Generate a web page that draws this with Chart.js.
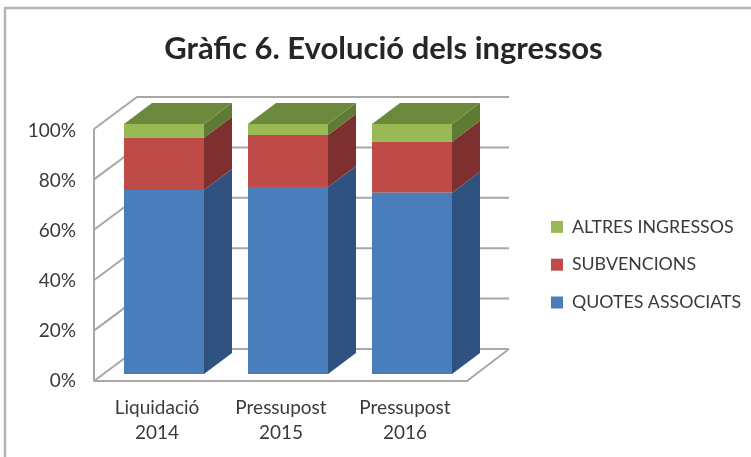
<!DOCTYPE html>
<html><head><meta charset="utf-8">
<style>html,body{margin:0;padding:0;background:#fff}canvas{display:block}</style>
<script src="https://cdn.jsdelivr.net/npm/chart.js@4/dist/chart.umd.js"></script>
</head><body><canvas id="c" width="751" height="457"></canvas>
<script>
const titleText = "Gràfic 6. Evolució dels ingressos";
const categories = [["Liquidació","2014"],["Pressupost","2015"],["Pressupost","2016"]];
const quotes = [73.6,74.8,72.5];
const subvencions = [20.9,20.8,20.4];
const altres = [5.5,4.4,7.1];
const yTicks = [0,20,40,60,80,100];
const FONT = "Lato, Carlito, sans-serif";
const TEXT = "#3a3a3a", GRID = "#a8a8a8";
const side = ["#2f5280","#7e3030","#5f7b33"];
const topFace = "#6c8a3c";
const DX=28, DY=21;

const threeD = {
  id:"threeD",
  beforeLayout(chart){
    const lg=chart.legend;
    if(!lg._fixedFit){
      lg._fixedFit=true;
      const f=lg.fit;
      lg.fit=function(){f.call(this); this.width=277;};
    }
  },
  afterLayout(chart){
    const l=chart.legend; l.left=531; l.right=751; l.top=198; l.bottom=420;
    const t=chart.titleBlock; t.left=8; t.right=759;
  },
  beforeDraw(chart){
    const c=chart.ctx;
    c.save();
    c.fillStyle="#fff"; c.fillRect(0,0,751,457);
    c.strokeStyle="#b4b4b4"; c.lineWidth=2.5;
    c.beginPath(); c.moveTo(5,457); c.lineTo(5,8); c.lineTo(751,8); c.stroke();
    c.restore();
  },
  beforeDatasetsDraw(chart){
    const c=chart.ctx, y=chart.scales.y, a=chart.chartArea;
    const p0=y.getPixelForValue(0);
    const fy=v=>p0+7+(y.getPixelForValue(v)-p0)*1.008;
    const L=a.left-8, R=a.right-7, BX=43, BY=32;
    c.save();
    c.strokeStyle=GRID; c.lineWidth=2; c.lineJoin="miter";
    c.beginPath();
    for(const v of yTicks){
      c.moveTo(L,fy(v)); c.lineTo(L+BX,fy(v)-BY); c.lineTo(R+BX-1,fy(v)-BY);
    }
    c.moveTo(L,fy(100)); c.lineTo(L,fy(0)); c.lineTo(R,fy(0)); c.lineTo(R+BX-1,fy(0)-BY);
    c.stroke();
    c.restore();
    // depth faces of the bars
    c.save();
    chart.data.datasets.forEach((ds,i)=>{
      chart.getDatasetMeta(i).data.forEach(b=>{
        const r=b.x+b.width/2;
        c.fillStyle=side[i];
        c.beginPath();
        c.moveTo(r,b.y); c.lineTo(r+DX,b.y-DY); c.lineTo(r+DX,b.base-DY); c.lineTo(r,b.base);
        c.closePath(); c.fill();
        if(i===chart.data.datasets.length-1){
          const l=b.x-b.width/2;
          c.fillStyle=topFace;
          c.beginPath();
          c.moveTo(l,b.y); c.lineTo(l+DX,b.y-DY); c.lineTo(r+DX,b.y-DY); c.lineTo(r,b.y);
          c.closePath(); c.fill();
        }
      });
    });
    c.restore();
  }
};

new Chart(document.getElementById("c"),{
  type:"bar",
  data:{labels:categories,datasets:[
    {label:"QUOTES ASSOCIATS",data:quotes,backgroundColor:"#4a7ebb"},
    {label:"SUBVENCIONS",data:subvencions,backgroundColor:"#be4b48"},
    {label:"ALTRES INGRESSOS",data:altres,backgroundColor:"#98b954"}
  ]},
  options:{
    responsive:false,animation:false,
    layout:{padding:0},
    datasets:{bar:{categoryPercentage:1,barPercentage:80/124}},
    plugins:{
      title:{display:true,text:titleText,color:"#262626",font:{family:FONT,size:31,weight:"bold",lineHeight:1.2},
        padding:{top:30,bottom:56.8}},
      legend:{display:true,position:"right",align:"start",reverse:true,
        labels:{boxWidth:12,boxHeight:12,padding:20,color:TEXT,font:{family:FONT,size:17.8}}},
      tooltip:{enabled:false}
    },
    scales:{
      x:{stacked:true,grid:{display:false,drawTicks:false},border:{display:false},
        afterFit(s){s.height=83;},
        ticks:{color:TEXT,font:{family:FONT,size:19,lineHeight:1.3},padding:22,labelOffset:-7,maxRotation:0}},
      y:{stacked:true,min:0,max:100,grid:{display:false,drawTicks:false},border:{display:false},
        afterFit(s){s.width=102;},
        afterBuildTicks(s){s.ticks=yTicks.map(v=>({value:v}));},
        ticks:{color:TEXT,font:{family:FONT,size:19},padding:26,labelOffset:6.5,callback:v=>v+"%"}}
    }
  },
  plugins:[threeD]
});
</script></body></html>
